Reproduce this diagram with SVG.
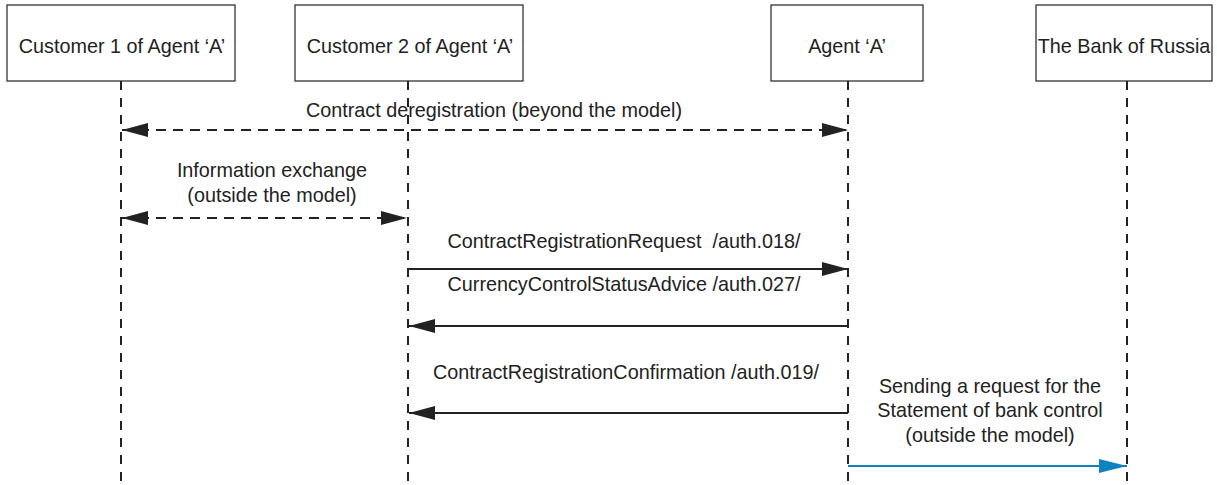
<svg xmlns="http://www.w3.org/2000/svg" width="1217" height="485" viewBox="0 0 1217 485">
  <style>
    .box { fill: #ffffff; stroke: #333333; stroke-width: 1.3; }
    .lbl { font-family: "Liberation Sans", Arial, sans-serif; font-size: 19.8px; fill: #222222; text-anchor: middle; }
    .life { stroke: #222222; stroke-width: 2; stroke-dasharray: 9 8; fill: none; }
    .msg { stroke: #222222; stroke-width: 2; fill: none; }
    .dmsg { stroke: #222222; stroke-width: 2.2; stroke-dasharray: 10 7; fill: none; }
    .blue { stroke: #1082bf; stroke-width: 2; fill: none; }
  </style>
  <defs>
    <marker id="head" viewBox="0 0 26 14" refX="26" refY="7" markerWidth="26" markerHeight="14" markerUnits="userSpaceOnUse" orient="auto-start-reverse">
      <path d="M0,0 L26,7 L0,14 Z" fill="#222222"/>
    </marker>
    <marker id="headBlue" viewBox="0 0 28 14" refX="28" refY="7" markerWidth="28" markerHeight="14" markerUnits="userSpaceOnUse" orient="auto">
      <path d="M0,0 L28,7 L0,14 Z" fill="#1082bf"/>
    </marker>
  </defs>

  <rect width="1217" height="485" fill="#ffffff"/>

  <!-- participants -->
  <g id="customer1">
    <rect class="box" x="7" y="5" width="228" height="76"/>
    <text class="lbl" x="122" y="53">Customer 1 of Agent ‘A’</text>
  </g>
  <g id="customer2">
    <rect class="box" x="295" y="5" width="228" height="76"/>
    <text class="lbl" x="410" y="53">Customer 2 of Agent ‘A’</text>
  </g>
  <g id="agentA">
    <rect class="box" x="771" y="5" width="152" height="76"/>
    <text class="lbl" x="847" y="53">Agent ‘A’</text>
  </g>
  <g id="bankOfRussia">
    <rect class="box" x="1036" y="5" width="176" height="76"/>
    <text class="lbl" x="1124" y="53">The Bank of Russia</text>
  </g>

  <!-- lifelines and messages -->
  <g id="connectors">
    <line class="life" x1="121" y1="81" x2="121" y2="485"/>
    <line class="life" x1="408" y1="81" x2="408" y2="485"/>
    <line class="life" x1="848" y1="81" x2="848" y2="485"/>
    <line class="life" x1="1127" y1="81" x2="1127" y2="485"/>

    <line class="dmsg" x1="122" y1="130" x2="848" y2="130" marker-start="url(#head)" marker-end="url(#head)"/>
    <line class="dmsg" x1="122" y1="218" x2="407" y2="218" marker-start="url(#head)" marker-end="url(#head)"/>

    <line class="msg" x1="408" y1="269" x2="848" y2="269" marker-end="url(#head)"/>
    <line class="msg" x1="848" y1="326" x2="409" y2="326" marker-end="url(#head)"/>
    <line class="msg" x1="848" y1="413" x2="409" y2="413" marker-end="url(#head)"/>
    <line class="blue" x1="848" y1="466" x2="1127" y2="466" marker-end="url(#headBlue)"/>
  </g>

  <!-- message labels -->
  <g id="labels">
    <text class="lbl" x="494" y="117">Contract deregistration (beyond the model)</text>
    <text class="lbl" x="272" y="177">Information exchange</text>
    <text class="lbl" x="272" y="202">(outside the model)</text>
    <text class="lbl" x="624" y="248">ContractRegistrationRequest&#160; /auth.018/</text>
    <text class="lbl" x="624" y="291">CurrencyControlStatusAdvice /auth.027/</text>
    <text class="lbl" x="626" y="379">ContractRegistrationConfirmation /auth.019/</text>
    <text class="lbl" x="990" y="393">Sending a request for the</text>
    <text class="lbl" x="990" y="417">Statement of bank control</text>
    <text class="lbl" x="990" y="442">(outside the model)</text>
  </g>
</svg>
